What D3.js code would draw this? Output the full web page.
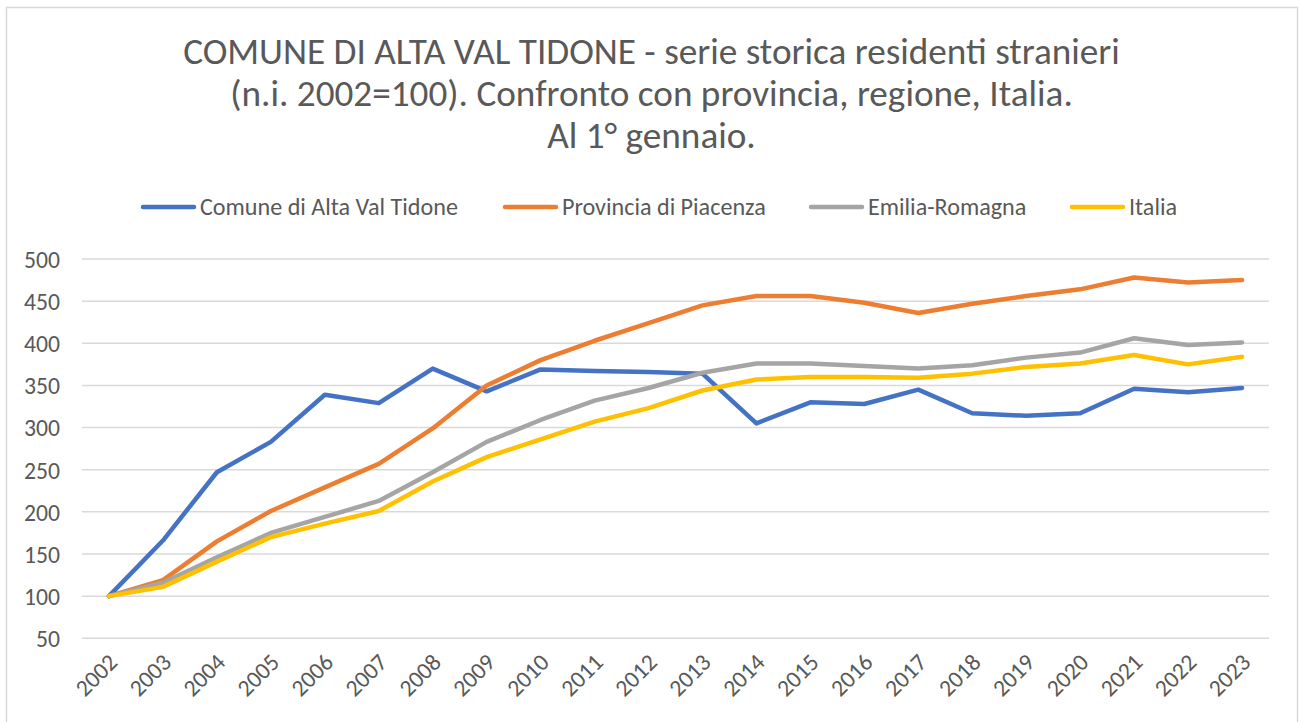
<!DOCTYPE html>
<html><head><meta charset="utf-8">
<script src="https://cdn.jsdelivr.net/npm/d3@7"></script>
<style>
html,body{margin:0;padding:0;background:#fff;}
svg{display:block;}
text{font-family:Carlito, Calibri, "Open Sans", sans-serif;fill:#595959;}
</style></head><body>
<svg id="chart" width="1301" height="722"></svg>
<script>
const years = ["2002","2003","2004","2005","2006","2007","2008","2009","2010","2011","2012","2013","2014","2015","2016","2017","2018","2019","2020","2021","2022","2023"];
const comune =    [100,166,247,283,339,329,370,343,369,367,366,364,305,330,328,345,317,314,317,346,342,347];
const provincia = [100,119,165,201,229,257,299,350,380,403,424,445,456,456,448,436,447,456,464,478,472,475];
const regione =   [100,116,146,175,194,213,247,283,309,332,347,365,376,376,373,370,374,383,389,406,398,401];
const italia =    [100,111,141,170,186,201,236,265,286,307,323,344,357,360,360,359,364,372,376,386,375,384];
const seriesNames = ["Comune di Alta Val Tidone","Provincia di Piacenza","Emilia-Romagna","Italia"];
const seriesColors = ["#4472C4","#ED7D31","#A5A5A5","#FFC000"];
const yTicks = [50,100,150,200,250,300,350,400,450,500];
const titleLines = ["COMUNE DI ALTA VAL TIDONE - serie storica residenti stranieri","(n.i. 2002=100). Confronto con provincia, regione, Italia.","Al 1° gennaio."];

const seriesData = [comune, provincia, regione, italia];
const svg = d3.select("#chart");

// frame
svg.append("rect").attr("x",6.5).attr("y",7.5).attr("width",1291).attr("height",730)
  .attr("fill","#fff").attr("stroke","#d9d9d9").attr("stroke-width",1.5);

const x = d3.scalePoint().domain(years).range([82,1269]).padding(0.5);
const y = d3.scaleLinear().domain([50,500]).range([638.3,259]);

function fit(sel, target, base){
  sel.style("font-size", base+"px");
  const w = sel.node().getComputedTextLength();
  const fs = base*target/w;
  sel.style("font-size", fs+"px");
  return fs;
}

// title
const tWidths = [937, 843, 195];
const tY = [64, 106, 148];
let tfs = null;
titleLines.forEach((t,i)=>{
  const el = svg.append("text").attr("x",651.5).attr("y",tY[i]).attr("text-anchor","middle").text(t);
  if(i===0){ tfs = fit(el, tWidths[0], 30); } else el.style("font-size", tfs+"px");
});

// gridlines
svg.append("g").selectAll("line").data(yTicks).join("line")
  .attr("x1",82).attr("x2",1269).attr("y1",d=>y(d)).attr("y2",d=>y(d))
  .attr("stroke","#d9d9d9").attr("stroke-width",1.5);

// y axis labels
const yAxis = d3.axisLeft(y).tickValues(yTicks).tickSize(0).tickPadding(0);
const yg = svg.append("g").attr("transform","translate(60,0)").call(yAxis);
yg.select(".domain").remove();
const probe = yg.selectAll("text").filter(d=>d===500);
const afs = fit(probe, 36, 20);
yg.selectAll("text").style("font-size",afs+"px").style("fill","#595959").attr("dy","0.35em").attr("font-family",null);

// x axis labels
const xAxis = d3.axisBottom(x).tickSize(0).tickPadding(0);
const xg = svg.append("g").call(xAxis);
xg.select(".domain").remove();
xg.selectAll(".tick").attr("transform", d=>`translate(${x(d)+4},658)`);
xg.selectAll("text").attr("y",0).attr("x",0).attr("dy","0.35em")
  .attr("text-anchor","end").attr("transform","rotate(-45)")
  .style("font-size",afs+"px").style("fill","#595959").attr("font-family",null);

// lines
const line = d3.line().x((d,i)=>x(years[i])).y(d=>y(d));
seriesData.forEach((s,i)=>{
  svg.append("path").datum(s).attr("d",line).attr("fill","none")
    .attr("stroke",seriesColors[i]).attr("stroke-width",4.5)
    .attr("stroke-linejoin","round").attr("stroke-linecap","round");
});

// legend
const legX = [141, 503, 809, 1070];
const legW = [258, 202, 156, 48];
let lfs = null;
seriesNames.forEach((n,i)=>{
  svg.append("line").attr("x1",legX[i]+2).attr("x2",legX[i]+53).attr("y1",207).attr("y2",207)
    .attr("stroke",seriesColors[i]).attr("stroke-width",4.5).attr("stroke-linecap","round");
  const t = svg.append("text").attr("x",legX[i]+59).attr("y",207).attr("dy","0.35em").text(n);
  if(i===0) lfs = fit(t, legW[0], 18); else t.style("font-size",lfs+"px");
});
</script>
</body></html>
